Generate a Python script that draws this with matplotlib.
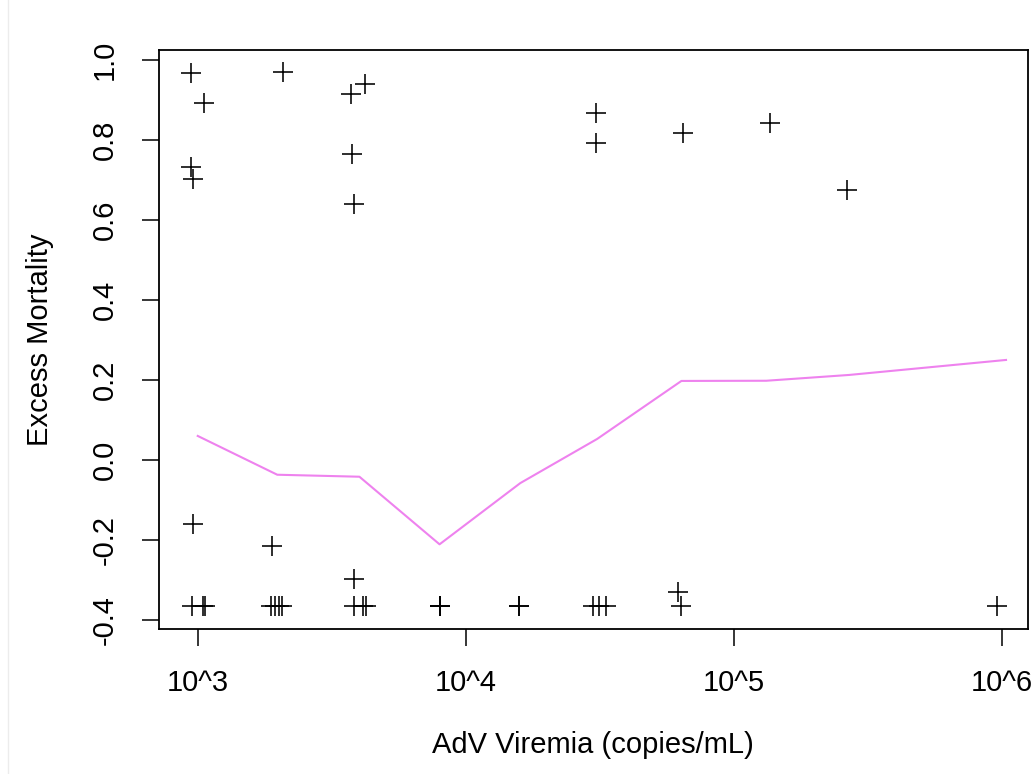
import matplotlib
matplotlib.use("Agg")
import matplotlib.pyplot as plt
from matplotlib.lines import Line2D

# AdV viremia (copies/mL) and excess mortality
viremia = [946, 1057, 940, 959, 2084, 3733, 4207, 3776, 3828,
           30550, 30550, 64420, 136500, 264900,
           957, 1888, 3837, 61660,
           948, 1045, 1064, 1884, 1950, 2004, 2065, 3837, 4121, 4246,
           8017, 8017, 8017, 15850, 15850, 29790, 31410, 33190, 63530, 961600]
mortality = [0.968, 0.892, 0.733, 0.702, 0.971, 0.914, 0.939, 0.764, 0.639,
             0.867, 0.793, 0.818, 0.843, 0.675,
             -0.160, -0.214, -0.298, -0.330,
             -0.365, -0.365, -0.365, -0.365, -0.365, -0.365, -0.365, -0.365,
             -0.365, -0.365, -0.365, -0.365, -0.365, -0.365, -0.365, -0.365,
             -0.365, -0.365, -0.365, -0.365]

# smoothed curve
curve_x = [1000, 1980, 4010, 7980, 15960, 30900, 63700, 132000, 269000, 1035000]
curve_y = [0.060, -0.037, -0.042, -0.211, -0.058, 0.0525, 0.1975, 0.198, 0.2125, 0.250]

xticks = [1e3, 1e4, 1e5, 1e6]
xtick_labels = ["10^3", "10^4", "10^5", "10^6"]
yticks = [-0.4, -0.2, 0.0, 0.2, 0.4, 0.6, 0.8, 1.0]

W, H = 1035, 774
plt.rcParams['font.family'] = ['Liberation Sans', 'DejaVu Sans']
fig = plt.figure(figsize=(W / 100, H / 100), dpi=100)
ax = fig.add_axes([158.5 / W, 1 - 628.5 / H, (1028 - 158.5) / W, (628.5 - 50) / H])

ax.plot(viremia, mortality, linestyle='none', marker='+', markersize=14.5,
        markeredgewidth=1.15, color='black')
ax.plot(curve_x, curve_y, color='violet', linewidth=1.5)

ax.set_xscale('log')
ax.set_xlim(714, 1.25e6)
ax.set_ylim(-0.4215, 1.025)
ax.set_xticks(xticks)
ax.set_xticklabels(xtick_labels)
ax.xaxis.set_minor_locator(matplotlib.ticker.NullLocator())
ax.set_yticks(yticks)
ax.set_yticklabels([f"{v:.1f}" for v in yticks])

for s in ax.spines.values():
    s.set_linewidth(1.3)
ax.tick_params(axis='both', length=12.5, width=1.1, labelsize=21, colors='black')
ax.tick_params(axis='x', pad=17)
ax.tick_params(axis='y', pad=16)
plt.setp(ax.get_yticklabels(), rotation=90, va='center')

cx = (158.5 + 1028) / 2 / W
cy = 1 - (50 + 628.5) / 2 / H
fig.text(cx, 1 - 745 / H, "AdV Viremia (copies/mL)", ha='center', va='center', fontsize=21)
fig.text(40 / W, cy, "Excess Mortality", ha='center', va='center', rotation=90, fontsize=21)

# faint border line at the far left
fig.add_artist(Line2D([8 / W, 8 / W], [0, 1], color='#ececec', linewidth=1))

fig.savefig("out.png", dpi=100)
